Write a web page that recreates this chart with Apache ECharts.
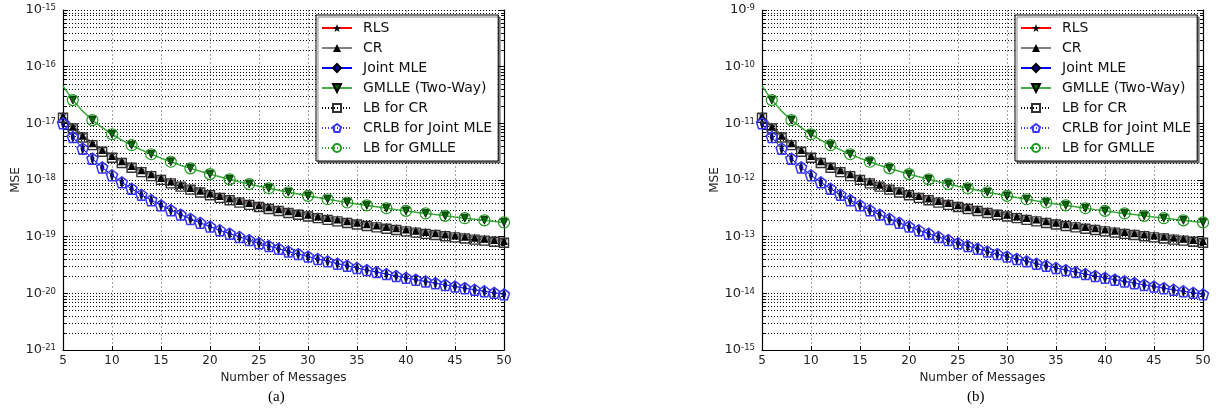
<!DOCTYPE html>
<html><head><meta charset="utf-8">
<script src="https://cdn.jsdelivr.net/npm/echarts@6/dist/echarts.min.js"></script>
<style>html,body{margin:0;padding:0;background:#fff}#c{width:1216px;height:413px}</style>
</head><body><div id="c"></div>
<script>
// ---------- data ----------
var messages = [5,6,7,8,9,10,11,12,13,14,15,16,17,18,19,20,21,22,23,24,25,26,27,28,29,30,31,32,33,34,35,36,37,38,39,40,41,42,43,44,45,46,47,48,49,50];
var seriesNames = ['RLS','CR','Joint MLE','GMLLE (Two-Way)','LB for CR','CRLB for Joint MLE','LB for GMLLE'];
var xTicks = [5,10,15,20,25,30,35,40,45,50];

// panel (a)
var rlsA = [1.387e-17,8.96e-18,6.23e-18,4.57e-18,3.49e-18,2.74e-18,2.21e-18,1.82e-18,1.524e-18,1.295e-18,1.112e-18,9.66e-19,8.46e-19,7.48e-19,6.65e-19,5.95e-19,5.36e-19,4.85e-19,4.41e-19,4.03e-19,3.70e-19,3.40e-19,3.14e-19,2.90e-19,2.70e-19,2.51e-19,2.35e-19,2.19e-19,2.06e-19,1.93e-19,1.817e-19,1.713e-19,1.618e-19,1.530e-19,1.450e-19,1.375e-19,1.306e-19,1.242e-19,1.183e-19,1.128e-19,1.076e-19,1.028e-19,9.84e-20,9.42e-20,9.02e-20,8.65e-20];
var crA = [1.347e-17,8.70e-18,6.05e-18,4.44e-18,3.39e-18,2.66e-18,2.15e-18,1.768e-18,1.480e-18,1.257e-18,1.080e-18,9.38e-19,8.21e-19,7.26e-19,6.46e-19,5.78e-19,5.20e-19,4.71e-19,4.28e-19,3.91e-19,3.59e-19,3.30e-19,3.05e-19,2.82e-19,2.62e-19,2.44e-19,2.28e-19,2.13e-19,2.00e-19,1.875e-19,1.764e-19,1.663e-19,1.571e-19,1.485e-19,1.408e-19,1.335e-19,1.268e-19,1.206e-19,1.149e-19,1.095e-19,1.045e-19,9.98e-20,9.55e-20,9.15e-20,8.76e-20,8.40e-20];
var jmleA = [1.000e-17,5.71e-18,3.57e-18,2.38e-18,1.667e-18,1.212e-18,9.09e-19,6.99e-19,5.49e-19,4.40e-19,3.57e-19,2.94e-19,2.45e-19,2.06e-19,1.754e-19,1.504e-19,1.299e-19,1.129e-19,9.88e-20,8.70e-20,7.69e-20,6.84e-20,6.11e-20,5.47e-20,4.93e-20,4.45e-20,4.03e-20,3.67e-20,3.34e-20,3.06e-20,2.80e-20,2.57e-20,2.37e-20,2.19e-20,2.02e-20,1.876e-20,1.742e-20,1.621e-20,1.510e-20,1.409e-20,1.318e-20,1.233e-20,1.156e-20,1.086e-20,1.020e-20,9.60e-21];
var gmlleA = [4.57e-17,2.57e-17,1.644e-17,1.142e-17,8.39e-18,6.42e-18,5.07e-18,4.11e-18,3.40e-18,2.85e-18,2.43e-18,2.10e-18,1.827e-18,1.605e-18,1.422e-18,1.269e-18,1.139e-18,1.028e-18,9.32e-19,8.49e-19,7.77e-19,7.14e-19,6.58e-19,6.08e-19,5.64e-19,5.24e-19,4.89e-19,4.57e-19,4.28e-19,4.01e-19,3.77e-19,3.56e-19,3.36e-19,3.17e-19,3.00e-19,2.85e-19,2.70e-19,2.57e-19,2.45e-19,2.33e-19,2.22e-19,2.12e-19,2.03e-19,1.942e-19,1.861e-19,1.784e-19];
var lbCrA = [1.253e-17,8.09e-18,5.63e-18,4.13e-18,3.15e-18,2.47e-18,2.00e-18,1.644e-18,1.376e-18,1.169e-18,1.004e-18,8.72e-19,7.64e-19,6.75e-19,6.01e-19,5.38e-19,4.84e-19,4.38e-19,3.98e-19,3.64e-19,3.34e-19,3.07e-19,2.84e-19,2.62e-19,2.44e-19,2.27e-19,2.12e-19,1.98e-19,1.86e-19,1.744e-19,1.641e-19,1.547e-19,1.461e-19,1.381e-19,1.309e-19,1.242e-19,1.179e-19,1.122e-19,1.069e-19,1.018e-19,9.72e-20,9.28e-20,8.88e-20,8.51e-20,8.15e-20,7.81e-20];
var crlbA = [1.000e-17,5.71e-18,3.57e-18,2.38e-18,1.667e-18,1.212e-18,9.09e-19,6.99e-19,5.49e-19,4.40e-19,3.57e-19,2.94e-19,2.45e-19,2.06e-19,1.754e-19,1.504e-19,1.299e-19,1.129e-19,9.88e-20,8.70e-20,7.69e-20,6.84e-20,6.11e-20,5.47e-20,4.93e-20,4.45e-20,4.03e-20,3.67e-20,3.34e-20,3.06e-20,2.80e-20,2.57e-20,2.37e-20,2.19e-20,2.02e-20,1.876e-20,1.742e-20,1.621e-20,1.510e-20,1.409e-20,1.318e-20,1.233e-20,1.156e-20,1.086e-20,1.020e-20,9.60e-21];
var lbGmlleA = [4.57e-17,2.57e-17,1.644e-17,1.142e-17,8.39e-18,6.42e-18,5.07e-18,4.11e-18,3.40e-18,2.85e-18,2.43e-18,2.10e-18,1.827e-18,1.605e-18,1.422e-18,1.269e-18,1.139e-18,1.028e-18,9.32e-19,8.49e-19,7.77e-19,7.14e-19,6.58e-19,6.08e-19,5.64e-19,5.24e-19,4.89e-19,4.57e-19,4.28e-19,4.01e-19,3.77e-19,3.56e-19,3.36e-19,3.17e-19,3.00e-19,2.85e-19,2.70e-19,2.57e-19,2.45e-19,2.33e-19,2.22e-19,2.12e-19,2.03e-19,1.942e-19,1.861e-19,1.784e-19];

// panel (b)
var rlsB = [1.387e-11,8.96e-12,6.23e-12,4.57e-12,3.49e-12,2.74e-12,2.21e-12,1.82e-12,1.524e-12,1.295e-12,1.112e-12,9.66e-13,8.46e-13,7.48e-13,6.65e-13,5.95e-13,5.36e-13,4.85e-13,4.41e-13,4.03e-13,3.70e-13,3.40e-13,3.14e-13,2.90e-13,2.70e-13,2.51e-13,2.35e-13,2.19e-13,2.06e-13,1.93e-13,1.817e-13,1.713e-13,1.618e-13,1.530e-13,1.450e-13,1.375e-13,1.306e-13,1.242e-13,1.183e-13,1.128e-13,1.076e-13,1.028e-13,9.84e-14,9.42e-14,9.02e-14,8.65e-14];
var crB = [1.347e-11,8.70e-12,6.05e-12,4.44e-12,3.39e-12,2.66e-12,2.15e-12,1.768e-12,1.480e-12,1.257e-12,1.080e-12,9.38e-13,8.21e-13,7.26e-13,6.46e-13,5.78e-13,5.20e-13,4.71e-13,4.28e-13,3.91e-13,3.59e-13,3.30e-13,3.05e-13,2.82e-13,2.62e-13,2.44e-13,2.28e-13,2.13e-13,2.00e-13,1.875e-13,1.764e-13,1.663e-13,1.571e-13,1.485e-13,1.408e-13,1.335e-13,1.268e-13,1.206e-13,1.149e-13,1.095e-13,1.045e-13,9.98e-14,9.55e-14,9.15e-14,8.76e-14,8.40e-14];
var jmleB = [1.000e-11,5.71e-12,3.57e-12,2.38e-12,1.667e-12,1.212e-12,9.09e-13,6.99e-13,5.49e-13,4.40e-13,3.57e-13,2.94e-13,2.45e-13,2.06e-13,1.754e-13,1.504e-13,1.299e-13,1.129e-13,9.88e-14,8.70e-14,7.69e-14,6.84e-14,6.11e-14,5.47e-14,4.93e-14,4.45e-14,4.03e-14,3.67e-14,3.34e-14,3.06e-14,2.80e-14,2.57e-14,2.37e-14,2.19e-14,2.02e-14,1.876e-14,1.742e-14,1.621e-14,1.510e-14,1.409e-14,1.318e-14,1.233e-14,1.156e-14,1.086e-14,1.020e-14,9.60e-15];
var gmlleB = [4.57e-11,2.57e-11,1.644e-11,1.142e-11,8.39e-12,6.42e-12,5.07e-12,4.11e-12,3.40e-12,2.85e-12,2.43e-12,2.10e-12,1.827e-12,1.605e-12,1.422e-12,1.269e-12,1.139e-12,1.028e-12,9.32e-13,8.49e-13,7.77e-13,7.14e-13,6.58e-13,6.08e-13,5.64e-13,5.24e-13,4.89e-13,4.57e-13,4.28e-13,4.01e-13,3.77e-13,3.56e-13,3.36e-13,3.17e-13,3.00e-13,2.85e-13,2.70e-13,2.57e-13,2.45e-13,2.33e-13,2.22e-13,2.12e-13,2.03e-13,1.942e-13,1.861e-13,1.784e-13];
var lbCrB = [1.253e-11,8.09e-12,5.63e-12,4.13e-12,3.15e-12,2.47e-12,2.00e-12,1.644e-12,1.376e-12,1.169e-12,1.004e-12,8.72e-13,7.64e-13,6.75e-13,6.01e-13,5.38e-13,4.84e-13,4.38e-13,3.98e-13,3.64e-13,3.34e-13,3.07e-13,2.84e-13,2.62e-13,2.44e-13,2.27e-13,2.12e-13,1.98e-13,1.86e-13,1.744e-13,1.641e-13,1.547e-13,1.461e-13,1.381e-13,1.309e-13,1.242e-13,1.179e-13,1.122e-13,1.069e-13,1.018e-13,9.72e-14,9.28e-14,8.88e-14,8.51e-14,8.15e-14,7.81e-14];
var crlbB = [1.000e-11,5.71e-12,3.57e-12,2.38e-12,1.667e-12,1.212e-12,9.09e-13,6.99e-13,5.49e-13,4.40e-13,3.57e-13,2.94e-13,2.45e-13,2.06e-13,1.754e-13,1.504e-13,1.299e-13,1.129e-13,9.88e-14,8.70e-14,7.69e-14,6.84e-14,6.11e-14,5.47e-14,4.93e-14,4.45e-14,4.03e-14,3.67e-14,3.34e-14,3.06e-14,2.80e-14,2.57e-14,2.37e-14,2.19e-14,2.02e-14,1.876e-14,1.742e-14,1.621e-14,1.510e-14,1.409e-14,1.318e-14,1.233e-14,1.156e-14,1.086e-14,1.020e-14,9.60e-15];
var lbGmlleB = [4.57e-11,2.57e-11,1.644e-11,1.142e-11,8.39e-12,6.42e-12,5.07e-12,4.11e-12,3.40e-12,2.85e-12,2.43e-12,2.10e-12,1.827e-12,1.605e-12,1.422e-12,1.269e-12,1.139e-12,1.028e-12,9.32e-13,8.49e-13,7.77e-13,7.14e-13,6.58e-13,6.08e-13,5.64e-13,5.24e-13,4.89e-13,4.57e-13,4.28e-13,4.01e-13,3.77e-13,3.56e-13,3.36e-13,3.17e-13,3.00e-13,2.85e-13,2.70e-13,2.57e-13,2.45e-13,2.33e-13,2.22e-13,2.12e-13,2.03e-13,1.942e-13,1.861e-13,1.784e-13];

// y-axis decades (exponents of 10) for each panel
var yDecadesA = [-21, -15];
var yDecadesB = [-15, -9];

// ---------- styling ----------
var FONT = 'DejaVu Sans';
var starPath = 'path://M50,0 L61.8,35.3 L97.6,34.5 L69,56.2 L79.4,90.5 L50,69.7 L20.6,90.5 L31,56.2 L2.4,34.5 L38.2,35.3 Z';
var pentPath = 'path://M50,0 L97.6,34.5 L79.4,90.5 L20.6,90.5 L2.4,34.5 Z';
var triDownPath = 'path://M0,0 L100,0 L50,87 Z';
var diamondPath = 'path://M50,0 L100,100 L50,200 L0,100 Z';
var CLEAR = 'rgba(0,0,0,0)';

var styles = [
  {symbol: starPath, symbolSize: 7, itemStyle: {color: '#000'}, lineStyle: {color: '#ff0000', width: 1}},
  {symbol: 'triangle', symbolSize: 8, itemStyle: {color: '#000'}, lineStyle: {color: '#808080', width: 2.5}},
  {symbol: diamondPath, symbolSize: [7, 11], symbolKeepAspect: true, itemStyle: {color: '#00009a', borderColor: '#000', borderWidth: 0.7}, lineStyle: {color: '#0000ff', width: 1}},
  {symbol: triDownPath, symbolSize: 8, itemStyle: {color: '#006400', borderColor: '#000', borderWidth: 0.7}, lineStyle: {color: '#45ad45', width: 1.5}, everyOther: true},
  {symbol: 'rect', symbolSize: 9, itemStyle: {color: CLEAR, borderColor: '#333', borderWidth: 1.4}, lineStyle: {color: '#000', width: 1, type: [1, 2]}},
  {symbol: pentPath, symbolSize: 11, itemStyle: {color: CLEAR, borderColor: '#3535ff', borderWidth: 1.5}, lineStyle: {color: '#3535ff', width: 1, type: [1, 2]}},
  {symbol: 'circle', symbolSize: 11, itemStyle: {color: CLEAR, borderColor: '#1f9a1f', borderWidth: 1.2}, lineStyle: {color: '#1f9a1f', width: 1, type: [1, 2]}, everyOther: true}
];

// the y axes are linear in log10(MSE), i.e. a logarithmic scale drawn by the value axis
function buildSeries(panel, arrays) {
  return arrays.map(function (arr, k) {
    var st = styles[k];
    var data = messages.map(function (x, i) {
      var pt = [x, Math.log10(arr[i])];
      if (st.everyOther && x % 2 !== 0) return {value: pt, symbol: 'none'};
      return pt;
    });
    return {
      name: seriesNames[k], type: 'line', xAxisIndex: panel, yAxisIndex: panel * 2,
      data: data, symbol: st.symbol, symbolSize: st.symbolSize, symbolKeepAspect: !!st.symbolKeepAspect,
      showAllSymbol: true, itemStyle: st.itemStyle, lineStyle: st.lineStyle,
      emphasis: {disabled: true}, silent: true, z: 3 + k, clip: true
    };
  });
}

function minorValues(dec) {
  var out = [];
  for (var e = dec[0]; e < dec[1]; e++) for (var m = 2; m <= 9; m++) out.push([5, e + Math.log10(m)]);
  return out;
}

function minorGrid(panel, dec) {
  return {
    type: 'custom', xAxisIndex: panel, yAxisIndex: panel * 2, silent: true, z: 1,
    data: minorValues(dec),
    renderItem: function (params, api) {
      var y = Math.round(api.coord([api.value(0), api.value(1)])[1]) + 0.5;
      var cs = params.coordSys;
      var x1 = cs.x, x2 = cs.x + cs.width;
      return {type: 'group', children: [
        {type: 'line', shape: {x1: x1, y1: y, x2: x2, y2: y}, style: {stroke: '#000', lineWidth: 1, lineDash: [1, 2]}},
        {type: 'line', shape: {x1: x1, y1: y, x2: x1 + 3, y2: y}, style: {stroke: '#000', lineWidth: 1}},
        {type: 'line', shape: {x1: x2 - 3, y1: y, x2: x2, y2: y}, style: {stroke: '#000', lineWidth: 1}}
      ]};
    }
  };
}

function xAxis(panel) {
  return {
    gridIndex: panel, type: 'value', min: xTicks[0], max: xTicks[xTicks.length - 1], interval: 5,
    axisLine: {lineStyle: {color: '#000', width: 1.2}},
    axisTick: {inside: true, length: 4, lineStyle: {color: '#000'}},
    axisLabel: {fontFamily: FONT, fontSize: 12, color: '#222', margin: 5},
    splitLine: {show: true, lineStyle: {color: '#a0a0a0', width: 1, type: [2, 2]}},
    name: 'Number of Messages', nameLocation: 'middle', nameGap: 16,
    nameTextStyle: {fontFamily: FONT, fontSize: 12, color: '#222'}
  };
}

function yAxes(panel, dec) {
  var common = {
    gridIndex: panel, type: 'value', min: dec[0], max: dec[1], interval: 1,
    axisLine: {show: true, onZero: false, lineStyle: {color: '#000', width: 1.2}},
    axisTick: {inside: true, length: 5, lineStyle: {color: '#000'}}
  };
  var left = Object.assign({}, common, {
    position: 'left',
    axisLabel: {
      margin: 7,
      formatter: function (v) { return '{b|10}{s|' + Math.round(v) + '}'; },
      rich: {
        b: {fontFamily: FONT, fontSize: 13, color: '#222'},
        s: {fontFamily: FONT, fontSize: 8.5, color: '#222', verticalAlign: 'top'}
      }
    },
    splitLine: {show: true, lineStyle: {color: '#000', width: 1, type: [1, 2]}},
    name: 'MSE', nameLocation: 'middle', nameGap: 41,
    nameTextStyle: {fontFamily: FONT, fontSize: 12, color: '#222'}
  });
  var right = Object.assign({}, common, {
    position: 'right', axisLabel: {show: false}, splitLine: {show: false}
  });
  return [left, right];
}

function legend(left) {
  return {
    data: seriesNames, orient: 'vertical', left: left, top: 15,
    itemWidth: 30, itemHeight: 10, itemGap: 6, padding: [6, 6, 6, 5],
    backgroundColor: '#fff', borderColor: '#000', borderWidth: 1, borderRadius: 0,
    shadowColor: 'rgba(0,0,0,0.45)', shadowOffsetX: 2, shadowOffsetY: 2, shadowBlur: 0,
    textStyle: {fontFamily: FONT, fontSize: 14, color: '#111', padding: [0, 0, 0, 6]},
    selectedMode: false
  };
}

var chart = echarts.init(document.getElementById('c'), null, {renderer: 'canvas'});
var option = {
  animation: false,
  backgroundColor: '#fff',
  grid: [
    {left: 63, top: 10, width: 441, height: 340},
    {left: 762, top: 10, width: 441, height: 340}
  ],
  xAxis: [xAxis(0), xAxis(1)],
  yAxis: yAxes(0, yDecadesA).concat(yAxes(1, yDecadesB)),
  legend: [legend(316), legend(1015)],
  series: [minorGrid(0, yDecadesA), minorGrid(1, yDecadesB)]
    .concat(buildSeries(0, [rlsA, crA, jmleA, gmlleA, lbCrA, crlbA, lbGmlleA]))
    .concat(buildSeries(1, [rlsB, crB, jmleB, gmlleB, lbCrB, crlbB, lbGmlleB])),
  graphic: [
    {type: 'text', left: 268, top: 390, style: {text: '(a)', font: '15px "Liberation Serif"', fill: '#000'}},
    {type: 'text', left: 967, top: 390, style: {text: '(b)', font: '15px "Liberation Serif"', fill: '#000'}}
  ]
};
chart.setOption(option);
</script></body></html>
